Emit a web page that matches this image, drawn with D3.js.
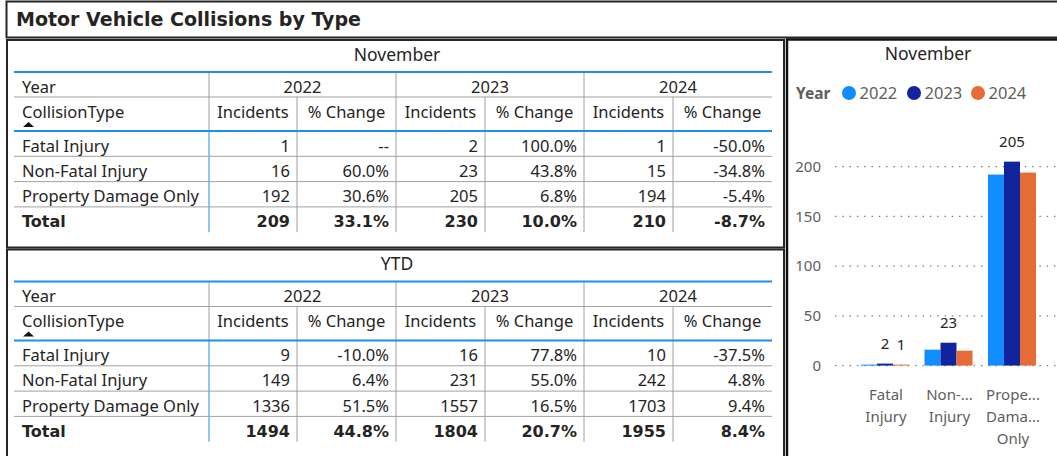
<!DOCTYPE html>
<html>
<head>
<meta charset="utf-8">
<script src="https://cdn.jsdelivr.net/npm/d3@7"></script>
<style>
  body { margin: 0; background: #fff; }
  svg { display: block; }
  text { font-family: "Noto Sans", "Open Sans", sans-serif; fill: #252423; }
  .bold { font-family: "DejaVu Sans", sans-serif; font-weight: bold; }
</style>
</head>
<body>
<svg id="chart" width="1057" height="456"></svg>
<script>
// collision types and years
var types = ["Fatal Injury", "Non-Fatal Injury", "Property Damage Only"];
var years = ["2022", "2023", "2024"];

// November incidents per year
var nov2022 = [1, 16, 192];
var nov2023 = [2, 23, 205];
var nov2024 = [1, 15, 194];
var novTotal = [209, 230, 210];
// November % change vs prior year (null shows as --)
var novPct2022 = [null, 60.0, 30.6];
var novPct2023 = [100.0, 43.8, 6.8];
var novPct2024 = [-50.0, -34.8, -5.4];
var novTotalPct = [33.1, 10.0, -8.7];

// YTD
var ytd2022 = [9, 149, 1336];
var ytd2023 = [16, 231, 1557];
var ytd2024 = [10, 242, 1703];
var ytdTotal = [1494, 1804, 1955];
var ytdPct2022 = [-10.0, 6.4, 51.5];
var ytdPct2023 = [77.8, 55.0, 16.5];
var ytdPct2024 = [-37.5, 4.8, 9.4];
var ytdTotalPct = [44.8, 20.7, 8.4];

// chart bits
var axisLabels = [["Fatal", "Injury"], ["Non-...", "Injury"], ["Prope...", "Dama...", "Only"]];
var yTicks = [0, 50, 100, 150, 200];
var labelledYears = [["2023", "2024"], ["2023"], ["2023"]]; // data labels that show
var colors = ["#118DFF", "#12239E", "#E66C37"];

var svg = d3.select("#chart");
var blue = "#1E8FF0", grid = "#a0a0a0";

function pct(v) { return v === null ? "--" : v.toFixed(1) + "%"; }

// panels
svg.append("rect").attr("x", 6.5).attr("y", 1.5).attr("width", 1070).attr("height", 36)
  .attr("fill", "none").attr("stroke", "#262626").attr("stroke-width", 2);
svg.append("text").attr("class", "bold").attr("x", 16).attr("y", 26)
  .style("font-size", "19px").text("Motor Vehicle Collisions by Type");

svg.append("rect").attr("x", 7).attr("y", 40).attr("width", 777).attr("height", 207.5)
  .attr("fill", "none").attr("stroke", "#262626").attr("stroke-width", 2);
svg.append("rect").attr("x", 7).attr("y", 249.5).attr("width", 777).attr("height", 300)
  .attr("fill", "none").attr("stroke", "#262626").attr("stroke-width", 2);
svg.append("rect").attr("x", 787).attr("y", 39.5).attr("width", 300).attr("height", 500)
  .attr("fill", "none").attr("stroke", "#111").attr("stroke-width", 2.5);

// tables
var colX = [14, 209, 297, 396, 485, 584, 673, 772];

function drawTable(dy, title, inc, pcts, totals, totalPct) {
  var g = svg.append("g").attr("transform", "translate(0," + dy + ")");
  var y0 = 72, y1 = 97, y2 = 131, rh = 25.3;
  var yEnd = y2 + rh * 4;

  g.append("text").attr("x", 397).attr("y", 60.5).attr("text-anchor", "middle")
    .style("font-size", "17.5px").text(title);

  // vertical lines
  [1, 3, 5].forEach(function(c) {
    g.append("line").attr("x1", colX[c]).attr("x2", colX[c]).attr("y1", y0).attr("y2", y1)
      .attr("stroke", grid);
  });
  [1, 2, 3, 4, 5, 6].forEach(function(c) {
    g.append("line").attr("x1", colX[c]).attr("x2", colX[c]).attr("y1", y1).attr("y2", y2)
      .attr("stroke", grid);
    g.append("line").attr("x1", colX[c]).attr("x2", colX[c]).attr("y1", y2).attr("y2", yEnd)
      .attr("stroke", c === 1 ? blue : grid);
  });

  // horizontal lines
  g.append("line").attr("x1", 14).attr("x2", 772).attr("y1", y1).attr("y2", y1).attr("stroke", grid);
  for (var r = 1; r < 4; r++) {
    g.append("line").attr("x1", 14).attr("x2", 772).attr("y1", y2 + rh * r).attr("y2", y2 + rh * r)
      .attr("stroke", grid);
  }
  g.append("line").attr("x1", 14).attr("x2", 772).attr("y1", y0).attr("y2", y0)
    .attr("stroke", blue).attr("stroke-width", 2);
  g.append("line").attr("x1", 14).attr("x2", 772).attr("y1", y2).attr("y2", y2)
    .attr("stroke", blue).attr("stroke-width", 2);

  // header text
  var fs = "16.5px";
  g.append("text").attr("x", 22).attr("y", y0 + 20.5).style("font-size", fs).text("Year");
  years.forEach(function(yr, i) {
    g.append("text").attr("x", (colX[1 + i * 2] + colX[3 + i * 2]) / 2).attr("y", y0 + 20.5)
      .attr("text-anchor", "middle").style("font-size", fs).text(yr);
    g.append("text").attr("x", (colX[1 + i * 2] + colX[2 + i * 2]) / 2).attr("y", y1 + 20.5)
      .attr("text-anchor", "middle").style("font-size", fs).text("Incidents");
    g.append("text").attr("x", (colX[2 + i * 2] + colX[3 + i * 2]) / 2).attr("y", y1 + 20.5)
      .attr("text-anchor", "middle").style("font-size", fs).text("% Change");
  });
  g.append("text").attr("x", 22).attr("y", y1 + 20.5).style("font-size", fs).text("CollisionType");
  g.append("path").attr("d", "M23,127 L28.5,122 L34,127 Z").attr("fill", "#111");

  // body
  types.forEach(function(t, r) {
    var by = y2 + rh * r + 20.5;
    g.append("text").attr("x", 22).attr("y", by).style("font-size", fs).text(t);
    years.forEach(function(yr, i) {
      g.append("text").attr("x", colX[2 + i * 2] - 7).attr("y", by).attr("text-anchor", "end")
        .style("font-size", fs).text(inc[i][r]);
      g.append("text").attr("x", colX[3 + i * 2] - 7).attr("y", by).attr("text-anchor", "end")
        .style("font-size", fs).text(pct(pcts[i][r]));
    });
  });
  var ty = y2 + rh * 3 + 20.5;
  g.append("text").attr("class", "bold").attr("x", 22).attr("y", ty).style("font-size", "16px").text("Total");
  years.forEach(function(yr, i) {
    g.append("text").attr("class", "bold").attr("x", colX[2 + i * 2] - 7).attr("y", ty)
      .attr("text-anchor", "end").style("font-size", "16px").text(totals[i]);
    g.append("text").attr("class", "bold").attr("x", colX[3 + i * 2] - 7).attr("y", ty)
      .attr("text-anchor", "end").style("font-size", "16px").text(pct(totalPct[i]));
  });
}

drawTable(0, "November", [nov2022, nov2023, nov2024], [novPct2022, novPct2023, novPct2024], novTotal, novTotalPct);
drawTable(209.5, "YTD", [ytd2022, ytd2023, ytd2024], [ytdPct2022, ytdPct2023, ytdPct2024], ytdTotal, ytdTotalPct);

// column chart
var novByYear = [nov2022, nov2023, nov2024];
var x = d3.scaleBand().domain(types).range([853.25, 1043.75]).paddingInner(0.244).paddingOuter(0.122);
var xi = d3.scaleBand().domain(years).range([0, x.bandwidth()]);
var y = d3.scaleLinear().domain([0, 200]).range([365.6, 166.6]);
var color = d3.scaleOrdinal().domain(years).range(colors);

var c = svg.append("g");
c.append("text").attr("x", 928).attr("y", 60).attr("text-anchor", "middle")
  .style("font-size", "17.5px").text("November");

// legend
c.append("text").attr("x", 796).attr("y", 98.5).style("font-size", "15.5px").style("font-weight", "bold")
  .style("fill", "#605E5C").text("Year");
var legX = [849, 914, 978];
years.forEach(function(yr, i) {
  c.append("circle").attr("cx", legX[i]).attr("cy", 93).attr("r", 7).attr("fill", color(yr));
  c.append("text").attr("x", legX[i] + 10.5).attr("y", 98.5).style("font-size", "16.5px")
    .style("fill", "#605E5C").text(yr);
});

// grid + y ticks
yTicks.forEach(function(t) {
  c.append("line").attr("x1", 835).attr("x2", 1057).attr("y1", y(t)).attr("y2", y(t))
    .attr("stroke", "#777").attr("stroke-width", 1.4).attr("stroke-dasharray", "1.4,5.9");
  c.append("text").attr("x", 821).attr("y", y(t)).attr("dy", "0.35em").attr("text-anchor", "end")
    .style("font-size", "15px").style("fill", "#605E5C").text(t);
});

// bars
var groups = c.selectAll("g.grp").data(types).enter().append("g")
  .attr("class", "grp").attr("transform", function(d) { return "translate(" + x(d) + ",0)"; });
groups.each(function(t, ti) {
  var gg = d3.select(this);
  years.forEach(function(yr, yi) {
    var v = novByYear[yi][ti];
    gg.append("rect").attr("x", xi(yr)).attr("width", xi.bandwidth())
      .attr("y", y(v)).attr("height", y(0) - y(v)).attr("fill", color(yr));
    if (labelledYears[ti].indexOf(yr) >= 0) {
      gg.append("text").attr("x", xi(yr) + xi.bandwidth() / 2).attr("y", y(v) - 14.5)
        .attr("text-anchor", "middle").style("font-size", "15px").text(v);
    }
  });
  axisLabels[ti].forEach(function(line, li) {
    gg.append("text").attr("x", x.bandwidth() / 2 + 1).attr("y", 400 + li * 22)
      .attr("text-anchor", "middle").style("font-size", "15px").style("fill", "#605E5C").text(line);
  });
});
</script>
</body>
</html>
